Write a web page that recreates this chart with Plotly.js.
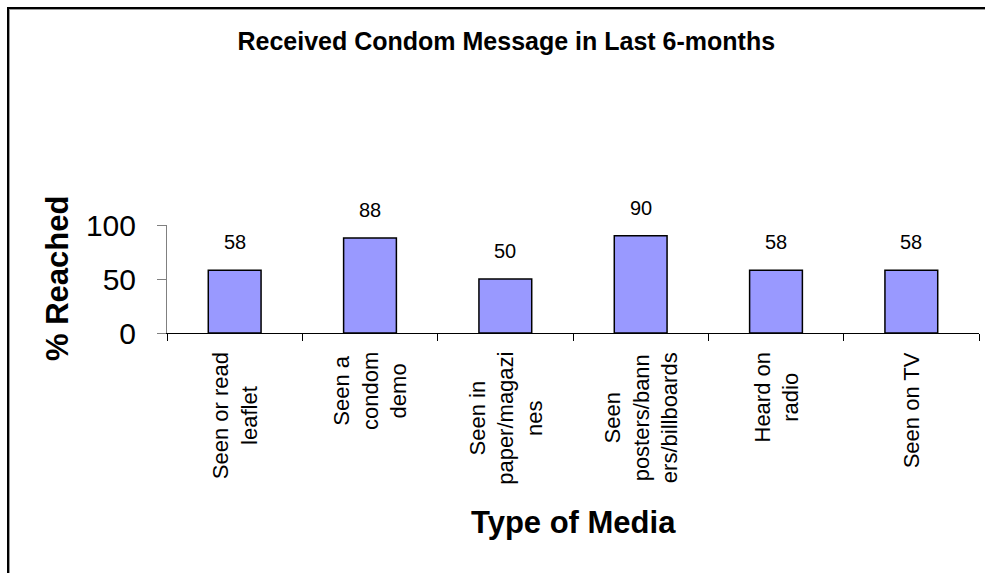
<!DOCTYPE html>
<html>
<head>
<meta charset="utf-8">
<script src="https://cdn.plot.ly/plotly-3.0.1.min.js"></script>
<style>
  html, body { margin: 0; padding: 0; background: #fff; overflow: hidden; }
  #wrap { position: relative; width: 985px; height: 573px; overflow: hidden; }
  #chart { position: absolute; left: 0; top: 0; width: 985px; height: 573px; }
  #frame { position: absolute; left: 7px; top: 7px; width: 976px; height: 564px;
           border-top: 2px solid #000; border-left: 2px solid #000;
           border-right: 0; border-bottom: 0;
           box-shadow: inset 1px 1px 0 #9a9a9a; pointer-events: none; }
</style>
</head>
<body>
<div id="wrap">
  <div id="chart"></div>
  <div id="frame"></div>
</div>
<script>
var categories = [
  "Seen or read<br>leaflet",
  "Seen a<br>condom<br>demo",
  "Seen in<br>paper/magazi<br>nes",
  "Seen<br>posters/bann<br>ers/billboards",
  "Heard on<br>radio",
  "Seen on TV"
];
var reached = [58, 88, 50, 90, 58, 58];
var yTicks = [0, 50, 100];

var FONT = "Liberation Sans, Arial, sans-serif";

var annotations = [];
categories.forEach(function (c, i) {
  annotations.push({
    x: c, y: reached[i], xref: "x", yref: "y",
    text: String(reached[i]), showarrow: false,
    yanchor: "middle", xanchor: "center", yshift: 28,
    font: {family: FONT, size: 20, color: "#000"}
  });
  annotations.push({
    x: c, y: 0, xref: "x", yref: "y",
    text: c, showarrow: false, textangle: -90, align: "center",
    yanchor: "top", xanchor: "center", yshift: -17,
    font: {family: FONT, size: 22, color: "#000"}
  });
});
annotations.push({
  x: 0, y: 0.5, xref: "paper", yref: "paper", xshift: -110,
  text: "<b>% Reached</b>", showarrow: false, textangle: -90,
  xanchor: "center", yanchor: "middle",
  font: {family: FONT, size: 31, color: "#000"}
});
annotations.push({
  x: 0.5, y: 0, xref: "paper", yref: "paper", yshift: -189,
  text: "<b>Type of Media</b>", showarrow: false,
  xanchor: "center", yanchor: "middle",
  font: {family: FONT, size: 31, color: "#000"}
});

var data = [{
  type: "bar",
  x: categories,
  y: reached,
  marker: {color: "#9999FF", line: {color: "#000", width: 1.5}},
  hoverinfo: "skip"
}];

var layout = {
  width: 985, height: 573,
  margin: {l: 167, r: 6, t: 225, b: 240},
  paper_bgcolor: "rgba(0,0,0,0)", plot_bgcolor: "rgba(0,0,0,0)",
  showlegend: false,
  bargap: 0.61,
  title: {
    text: "<b>Received Condom Message in Last 6-months</b>",
    x: 0.514, xref: "container", xanchor: "center",
    y: 0.928, yref: "container", yanchor: "middle",
    font: {family: FONT, size: 25, color: "#000"}
  },
  xaxis: {
    type: "category", range: [-0.5, 5.5],
    showline: true, linecolor: "#000", linewidth: 1,
    ticks: "outside", tickson: "boundaries", ticklen: 7, tickcolor: "#000",
    showticklabels: false, showgrid: false, zeroline: false, fixedrange: true
  },
  yaxis: {
    range: [0, 100], tickvals: yTicks, ticktext: yTicks.map(String),
    showline: true, linecolor: "#808080", linewidth: 1,
    ticks: "outside", ticklen: 9, tickcolor: "#808080",
    ticklabelstandoff: 15,
    tickfont: {family: FONT, size: 30, color: "#000"},
    showgrid: false, zeroline: false, fixedrange: true
  },
  annotations: annotations
};

Plotly.newPlot("chart", data, layout, {staticPlot: true, displayModeBar: false});
</script>
</body>
</html>
